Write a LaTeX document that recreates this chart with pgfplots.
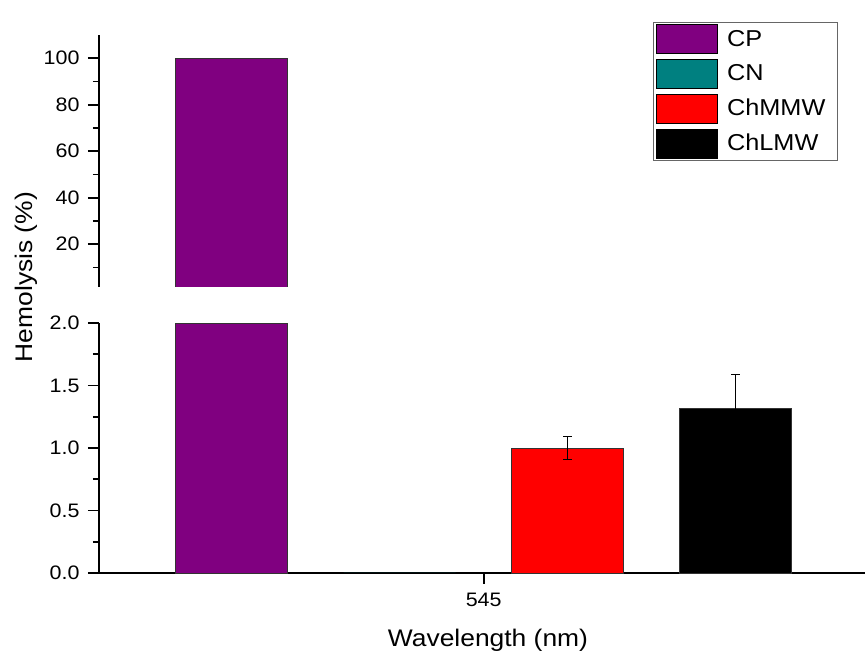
\documentclass[border=0pt]{standalone}
\usepackage{pgfplots}
\pgfplotsset{compat=1.18}
\usepackage{fontspec}
\setmainfont{Liberation Sans}[FakeStretch=1.1]
\definecolor{cppurple}{RGB}{128,0,128}
\definecolor{cnteal}{RGB}{0,128,128}
\definecolor{chred}{RGB}{255,0,0}
\pgfplotsset{
  common/.style={
    scale only axis,
    width=766pt,
    xmin=-0.79, xmax=3.77,
    /pgf/number format/assume math mode=true,
    tick label style={font=\fontsize{19.5}{23}\selectfont},
    yticklabel style={xshift=-5pt},
    ybar, bar width=0.667,
  },
  ticksty/.style={
    tick align=outside,
    major tick length=11pt,
    minor tick length=6pt,
    every tick/.append style={black, line width=1.8pt},
    axis line style={-, line width=1.8pt, black},
  },
  barstyle/.style={draw=black!80, line width=0.6pt, fill=#1, bar shift=0pt},
}
\begin{document}
\begin{tikzpicture}[x=1pt,y=1pt]
\path[use as bounding box, fill=white] (0,0) rectangle (865,655);
% lower part of the broken axis
\begin{axis}[common,
  at={(99pt,82pt)}, anchor=south west,
  height=250pt,
  ymin=0, ymax=2,
  axis x line=bottom, axis y line=left,
  ticksty,
  clip=false,
  xtick={1.5}, xticklabels={545},
  xticklabel style={yshift=-6pt},
  ytick={0,0.5,1,1.5,2},
  minor ytick={0.25,0.75,1.25,1.75},
  yticklabel style={/pgf/number format/.cd, fixed, fixed zerofill, precision=1},
]
\addplot[barstyle=cppurple] coordinates {(0,2)};
\addplot[barstyle=cnteal, draw=none] coordinates {(1,0)};
\addplot[barstyle=chred, error bars/.cd, y dir=both, y explicit,
  error bar style={black, line width=0.8pt},
  error mark options={rotate=90, mark size=4.5pt, black, line width=0.8pt}]
  coordinates {(2,1.0) +- (0,0.09)};
\addplot[barstyle=black, error bars/.cd, y dir=both, y explicit,
  error bar style={black, line width=0.8pt},
  error mark options={rotate=90, mark size=4.5pt, black, line width=0.8pt}]
  coordinates {(3,1.32) +- (0,0.27)};
\end{axis}
% upper part of the broken axis
\begin{axis}[common,
  at={(99pt,368pt)}, anchor=south west,
  height=252pt,
  ymin=1.6, ymax=110,
  axis y line=left, axis x line=none,
  ticksty,
  ytick={20,40,60,80,100},
  minor ytick={10,30,50,70,90},
  xtick=\empty,
  legend style={at={(0.723,1.052)}, anchor=north west,
    draw=black!60, line width=0.9pt, fill=white,
    font=\fontsize{23}{26}\selectfont,
    inner xsep=3pt, inner ysep=2pt,
    row sep=5pt,
    nodes={inner xsep=9pt},
    legend cell align=left},
  legend image code/.code={\draw[#1, draw=black, line width=0.8pt] (-6pt,-15pt) rectangle (55pt,14pt);},
]
\addplot[barstyle=cppurple] coordinates {(0,100)};
\addlegendentry{CP\hspace{8pt}}
\addlegendimage{fill=cnteal}
\addlegendentry{CN}
\addlegendimage{fill=chred}
\addlegendentry{ChMMW\hspace{8pt}}
\addlegendimage{fill=black}
\addlegendentry{ChLMW}
\end{axis}
\node[rotate=90, font=\fontsize{24}{27}\selectfont] at (26,378) {Hemolysis (\%)};
\node[anchor=base, font=\fontsize{24}{27}\selectfont] at (488,8) {Wavelength (nm)};
\end{tikzpicture}
\end{document}
